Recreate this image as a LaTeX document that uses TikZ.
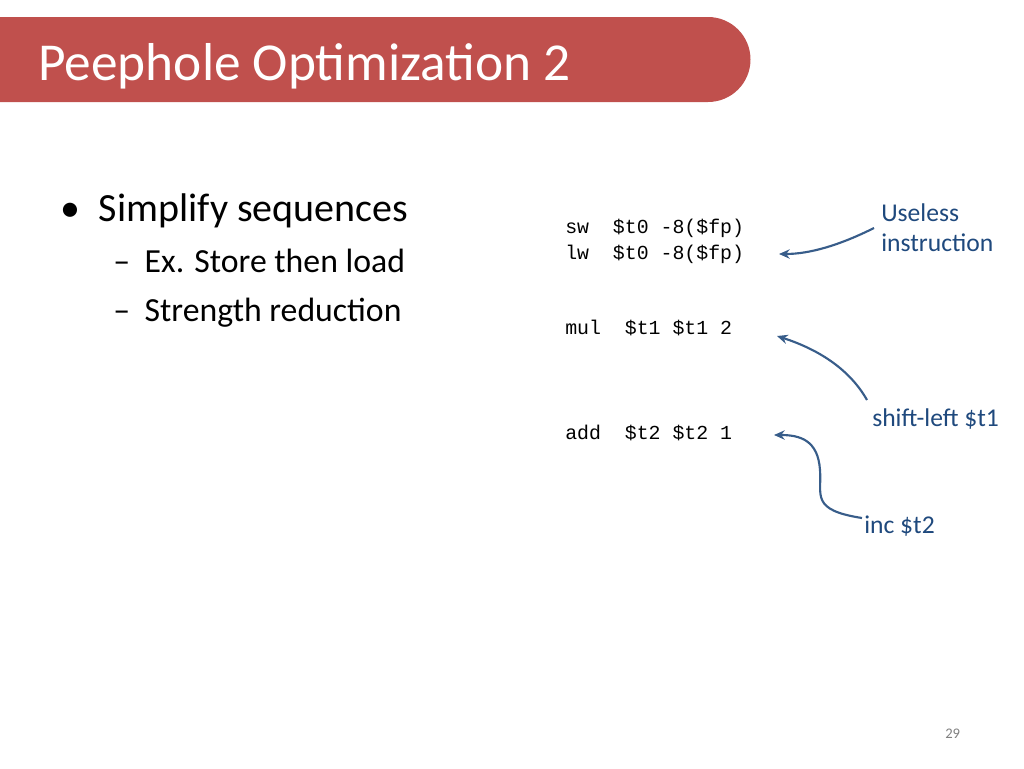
\documentclass[tikz,border=0pt]{standalone}
\usepackage{fontspec}
\setmainfont{Carlito}
\newfontfamily\codefont{Liberation Mono}
\usetikzlibrary{arrows.meta}
\definecolor{titlered}{HTML}{C0504D}
\definecolor{lblue}{HTML}{1F497D}
\definecolor{arr}{HTML}{385D8A}
\begin{document}
\begin{tikzpicture}[x=0.75pt,y=-0.75pt,
  code/.style={anchor=base west,inner sep=0,font=\codefont\fontsize{14.9}{18}\selectfont},
  lbl/.style={anchor=base west,inner sep=0,text=lblue,font=\fontsize{19.2}{23}\selectfont,align=left},
  conn/.style={arr,line width=1.6pt,-{Stealth[length=8pt,width=7pt]}}]
\useasboundingbox (0,0) rectangle (1024,768);
\fill[titlered] (0,17) -- (708,17) arc[start angle=-90,end angle=90,radius=42.5] -- (0,102) -- cycle;
\node[anchor=base west,inner sep=0,text=white,font=\fontsize{40}{48}\selectfont] (title) at (38,80) {Peephole Optimization 2};
\node[anchor=base west,inner sep=0,font=\fontsize{30}{36}\selectfont] (b1) at (60,221) {•\hspace{14pt}Simplify sequences};
\node[anchor=base west,inner sep=0,font=\fontsize{25.3}{30}\selectfont] (b2) at (113,272) {–\hspace{11pt}Ex. Store then load};
\node[anchor=base west,inner sep=0,font=\fontsize{25.3}{30}\selectfont] (b3) at (113,321) {–\hspace{11pt}Strength reduction};
\node[code] (c1) at (565,233) {sw\ \ \$t0 -8(\$fp)};
\node[code] (c2) at (565,259) {lw\ \ \$t0 -8(\$fp)};
\node[code] (c3) at (565,334) {mul\ \ \$t1 \$t1 2};
\node[code] (c4) at (565,439) {add\ \ \$t2 \$t2 1};
\node[lbl] (l1) at (881,221) {Useless};
\node[lbl] (l1b) at (881,251) {instruction};
\node[lbl] (l2) at (872,426) {shift-left \$t1};
\node[lbl] (l3) at (864,533) {inc \$t2};
\node[anchor=base west,inner sep=0,text=gray,font=\fontsize{11}{13}\selectfont] (pg) at (945,738) {29};
\coordinate (a1s) at (874,228); \coordinate (a1e) at (779,254);
\coordinate (a2s) at (867,400); \coordinate (a2e) at (777,336);
\coordinate (a3s) at (862,518); \coordinate (a3e) at (774,435);
\draw[conn] (a1s) .. controls (840,245) and (810,254) .. (a1e);
\draw[conn] (a2s) .. controls (850,370) and (820,350) .. (a2e);
\draw[conn] (a3s) .. controls (810,510) and (822,495) .. (820,470) .. controls (818,440) and (800,435) .. (a3e);
\end{tikzpicture}
\end{document}
